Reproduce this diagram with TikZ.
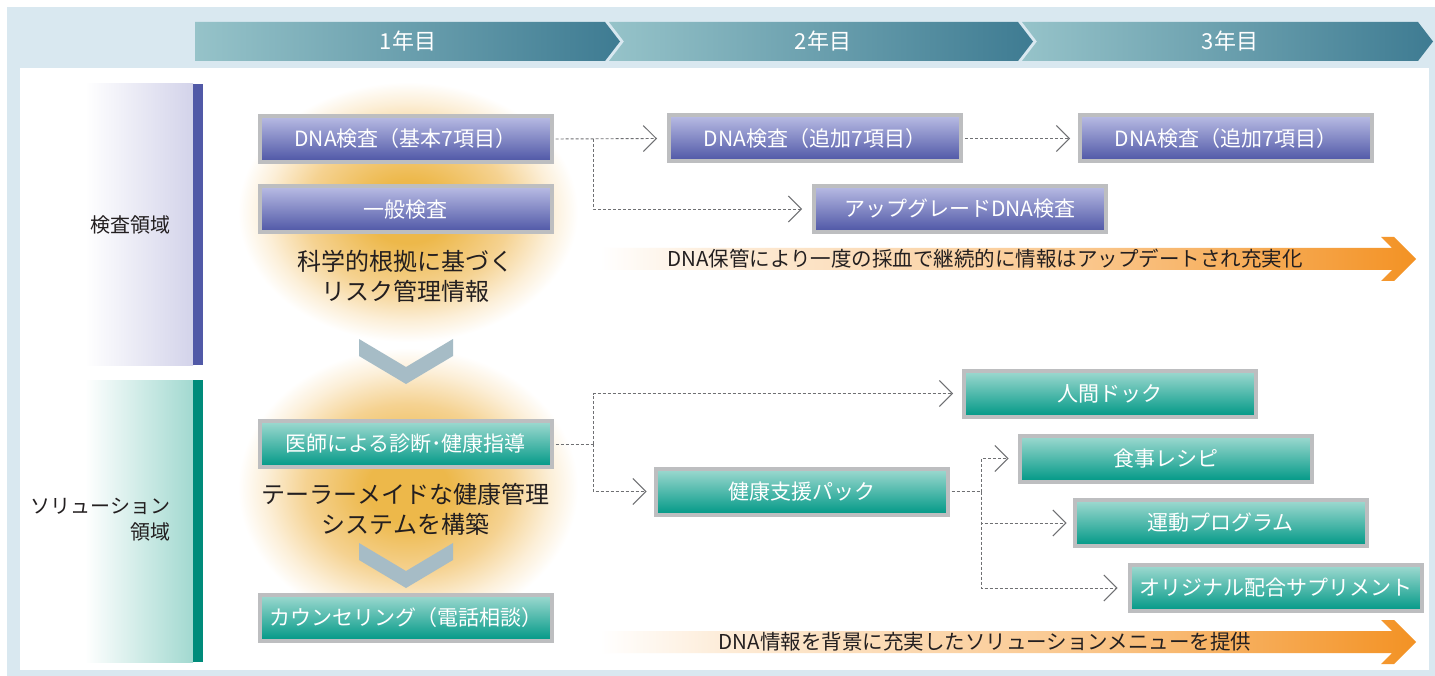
\documentclass[tikz,border=0pt]{standalone}
\usepackage{fontspec}
\setmainfont{Noto Sans CJK JP}
\usetikzlibrary{arrows.meta}
\definecolor{bgblue}{HTML}{D9E8F0}
\definecolor{hdL}{HTML}{96C3C9}
\definecolor{hdR}{HTML}{3E7B92}
\definecolor{lav}{HTML}{D3D3EA}
\definecolor{mint}{HTML}{A2D9D0}
\definecolor{barblue}{HTML}{5159A7}
\definecolor{barteal}{HTML}{008B7A}
\definecolor{chev}{HTML}{A6BCC6}
\definecolor{boxgray}{HTML}{BDBEC0}
\definecolor{bluetop}{HTML}{B9BCE4}
\definecolor{bluebot}{HTML}{4D55A5}
\definecolor{tealtop}{HTML}{A0DAD1}
\definecolor{tealbot}{HTML}{009886}
\definecolor{conncol}{HTML}{6F7073}
\definecolor{txt}{HTML}{231F20}
\definecolor{glowc}{HTML}{EDB84A}
\definecolor{glowm}{HTML}{F5D291}
\definecolor{glowo}{HTML}{FCEFD8}
\definecolor{or1}{HTML}{FDEBD6}
\definecolor{or2}{HTML}{FAC68B}
\definecolor{or3}{HTML}{F39224}
\pgfdeclareradialshading{glow}{\pgfpoint{0bp}{0bp}}{color(0bp)=(glowc); color(6bp)=(glowc); color(15bp)=(glowm); color(21bp)=(glowo); color(25bp)=(white); color(50bp)=(white)}
\pgfdeclarehorizontalshading{orangefade}{100bp}{color(0bp)=(white); color(25bp)=(white); color(33bp)=(or1); color(55bp)=(or2); color(75bp)=(or3); color(100bp)=(or3)}
\tikzset{
  box/.style={minimum width=292pt, minimum height=46pt, line width=4pt, draw=boxgray, inner sep=0pt, text=white, font=\fontsize{21}{24}\selectfont},
  bluebox/.style={box, top color=bluetop, bottom color=bluebot},
  tealbox/.style={box, top color=tealtop, bottom color=tealbot},
  hdtext/.style={text=white, font=\fontsize{22}{24}\selectfont},
  lbl/.style={text=txt, font=\fontsize{20}{26}\selectfont},
  bigtext/.style={text=txt, align=center, font=\fontsize{24}{30}\selectfont},
  ortext/.style={text=txt, font=\fontsize{20.5}{24}\selectfont},
  dline/.style={draw=conncol, line width=0.9pt, dash pattern=on 3pt off 2pt},
  conn/.style={dline, -{Straight Barb[length=13pt,width=26pt,line width=1pt]}},
}
\begin{document}
\begin{tikzpicture}[x=1pt,y=-1pt]
\useasboundingbox (0,0) rectangle (1435,676);
\fill[white] (0,0) rectangle (1435,676);
\fill[bgblue] (7,7) rectangle (1435,676);
\fill[white] (20,68) rectangle (1429,670);
% header chevrons
\path[left color=hdL, right color=hdR] (195,22) -- (605,22) -- (620,41.5) -- (605,61) -- (195,61) -- cycle;
\path[left color=hdL, right color=hdR] (609,22) -- (1018,22) -- (1033,41.5) -- (1018,61) -- (609,61) -- (624,41.5) -- cycle;
\path[left color=hdL, right color=hdR] (1022,22) -- (1418,22) -- (1433,41.5) -- (1418,61) -- (1022,61) -- (1037,41.5) -- cycle;
\node[hdtext] (y1) at (408,41.5) {1年目};
\node[hdtext] (y2) at (823,41.5) {2年目};
\node[hdtext] (y3) at (1230,41.5) {3年目};
% left panels
\path[left color=white, right color=lav] (85,84) rectangle (193,365);
\fill[barblue] (193,84) rectangle (203,365);
\node[lbl] (lab1) at (130,225) {検査領域};
\path[left color=white, right color=mint] (85,380) rectangle (193,662);
\fill[barteal] (193,380) rectangle (203,662);
\node[lbl, align=right, anchor=east] (lab2) at (174,520) {ソリューション\\領域};
% glows
\path[shading=glow] (408,212) ellipse [x radius=170pt, y radius=130pt];
\path[shading=glow] (408,488) ellipse [x radius=170pt, y radius=140pt];
% down chevrons
\fill[chev] (359,339) -- (406,367) -- (453,339) -- (453,356) -- (406,384) -- (359,356) -- cycle;
\fill[chev] (359,543) -- (406,571) -- (453,543) -- (453,560) -- (406,588) -- (359,560) -- cycle;
% texts
\node[bigtext] (t1) at (405.5,276) {科学的根拠に基づく\\リスク管理情報};
\node[bigtext] (t2) at (405.5,509) {テーラーメイドな健康管理\\システムを構築};
% orange arrows
\path[shading=orangefade] (600,248) -- (1392,248) -- (1381,237) -- (1394,237) -- (1416,259) -- (1394,281) -- (1381,281) -- (1392,270) -- (600,270) -- cycle;
\path[shading=orangefade] (600,631) -- (1392,631) -- (1381,620) -- (1394,620) -- (1416,642) -- (1394,664) -- (1381,664) -- (1392,653) -- (600,653) -- cycle;
\node[ortext] (o1) at (985,259) {DNA保管により一度の採血で継続的に情報はアップデートされ充実化};
\node[ortext] (o2) at (985,642) {DNA情報を背景に充実したソリューションメニューを提供};
% boxes
\node[bluebox] (dna1) at (405.5,139) {DNA検査（基本7項目）};
\node[bluebox] (ippan) at (405.5,209.5) {一般検査};
\node[bluebox] (dna2) at (815,138.5) {DNA検査（追加7項目）};
\node[bluebox] (dna3) at (1226,138.5) {DNA検査（追加7項目）};
\node[bluebox] (upg) at (960,209) {アップグレードDNA検査};
\node[tealbox] (ishi) at (405.5,444) {医師による診断･健康指導};
\node[tealbox] (couns) at (405.5,617.5) {カウンセリング（電話相談）};
\node[tealbox] (dock) at (1110,393.5) {人間ドック};
\node[tealbox] (pack) at (801.5,491.5) {健康支援パック};
\node[tealbox] (shoku) at (1165.5,458.5) {食事レシピ};
\node[tealbox] (undo) at (1220.5,523) {運動プログラム};
\node[tealbox] (supp) at (1275.5,588) {オリジナル配合サプリメント};
% connectors
\coordinate (j1) at (593,139);
\coordinate (j2) at (593,444);
\coordinate (j3) at (981,491.5);
\draw[conn, shorten <=2pt] (dna1.east) -- ([xshift=-10pt]dna2.west);
\draw[conn] (j1) |- ([xshift=-10pt]upg.west);
\draw[conn, shorten <=2pt] (dna2.east) -- ([xshift=-8pt]dna3.west);
\draw[dline, shorten <=2pt] (ishi.east) -- (j2);
\draw[conn] (j2) |- ([xshift=-9pt]dock.west);
\draw[conn] (j2) |- ([xshift=-7pt]pack.west);
\draw[dline, shorten <=2pt] (pack.east) -- (j3);
\draw[conn] (j3) |- ([xshift=-9pt]shoku.west);
\draw[conn] (j3) |- ([xshift=-6pt]undo.west);
\draw[conn] (j3) |- ([xshift=-10pt]supp.west);
\end{tikzpicture}
\end{document}
